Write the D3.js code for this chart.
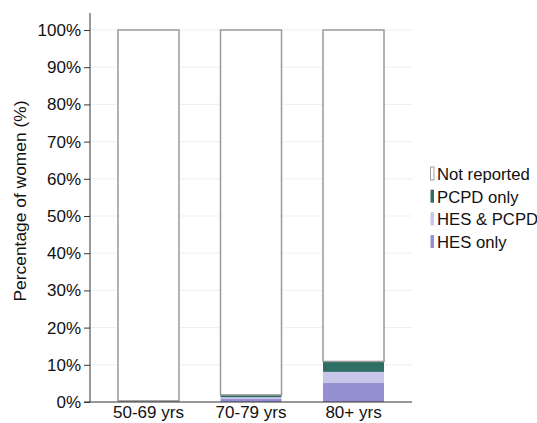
<!DOCTYPE html>
<html><head><meta charset="utf-8">
<script src="https://cdn.jsdelivr.net/npm/d3@7"></script>
<style>body{margin:0;background:#fff}svg{display:block}text{font-family:"Liberation Sans",Arial,sans-serif}</style>
</head><body><svg id="c" width="537" height="423"></svg>
<script>
const categories = ["50-69 yrs", "70-79 yrs", "80+ yrs"];
const seriesNames = ["HES only", "HES & PCPD", "PCPD only", "Not reported"];
const hesOnly = [0.1, 0.8, 5.1];
const hesPcpd = [0.05, 0.5, 3.0];
const pcpdOnly = [0.15, 0.6, 2.8];
const notReported = categories.map((c, i) => 100 - hesOnly[i] - hesPcpd[i] - pcpdOnly[i]);
const yTicks = [0, 10, 20, 30, 40, 50, 60, 70, 80, 90, 100];
const colors = ["#948fd1", "#c9c4e9", "#2f6e62", "#ffffff"];

const svg = d3.select("#c");
const x0 = 90, x1 = 412, yTop = 30, yBot = 402;
const x = d3.scaleBand().domain(categories).range([x0, x1]).paddingInner(0.405).paddingOuter(0.273);
const y = d3.scaleLinear().domain([0, 100]).range([yBot, yTop]);

// gridlines
svg.append("g").selectAll("line").data(yTicks.slice(1)).join("line")
  .attr("x1", x0).attr("x2", x1).attr("y1", d => y(d)).attr("y2", d => y(d))
  .attr("stroke", "#e9f1f1").attr("stroke-width", 1);

const rows = categories.map((c, i) => ({cat: c, "HES only": hesOnly[i], "HES & PCPD": hesPcpd[i], "PCPD only": pcpdOnly[i], "Not reported": notReported[i]}));
const stack = d3.stack().keys(seriesNames)(rows);

svg.append("g").selectAll("g").data(stack).join("g")
  .attr("fill", (d, i) => colors[i])
  .attr("stroke", (d, i) => i === 3 ? "#9a9a9a" : "none")
  .attr("stroke-width", 1.5)
  .selectAll("rect").data(d => d).join("rect")
  .attr("x", d => x(d.data.cat))
  .attr("width", x.bandwidth())
  .attr("y", d => y(d[1]))
  .attr("height", d => Math.max(0, y(d[0]) - y(d[1])));

// axes
const yAxis = d3.axisLeft(y).tickValues(yTicks).tickFormat(d => d + "%").tickSize(6).tickPadding(3);
const gy = svg.append("g").attr("transform", `translate(${x0},0)`).call(yAxis);
gy.select(".domain").remove();
gy.selectAll(".tick line").attr("stroke", "#333");
gy.selectAll("text").attr("font-size", 17).attr("fill", "#111");
svg.append("line").attr("x1", x0).attr("x2", x0).attr("y1", 13).attr("y2", yBot).attr("stroke", "#333");
svg.append("line").attr("x1", x0 - 6).attr("x2", x1).attr("y1", yBot).attr("y2", yBot).attr("stroke", "#333");

const xAxis = d3.axisBottom(x).tickSize(0).tickPadding(4);
const gx = svg.append("g").attr("transform", `translate(0,${yBot})`).call(xAxis);
gx.select(".domain").remove();
gx.selectAll("text").attr("font-size", 17).attr("fill", "#111");

svg.append("text").attr("transform", `translate(26,201) rotate(-90)`)
  .attr("text-anchor", "middle").attr("font-size", 17.4).attr("fill", "#111")
  .text("Percentage of women (%)");

// legend
const legendOrder = [3, 2, 1, 0];
const lg = svg.append("g").attr("transform", "translate(430,174)");
legendOrder.forEach((si, k) => {
  const g = lg.append("g").attr("transform", `translate(0,${k * 22.7})`);
  g.append("rect").attr("x", 0.5).attr("y", -7).attr("width", 3.5).attr("height", 13)
    .attr("fill", colors[si]).attr("stroke", si === 3 ? "#888" : "none").attr("stroke-width", 0.8);
  g.append("text").attr("x", 7).attr("y", 6).attr("font-size", 16.7).attr("fill", "#111").text(seriesNames[si]);
});
</script></body></html>
